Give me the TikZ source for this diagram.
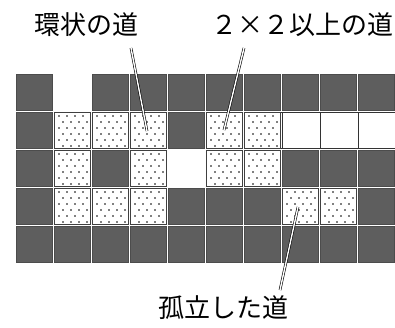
\documentclass[tikz,border=0pt]{standalone}
\usepackage{fontspec}
\newfontfamily\jp{Noto Sans CJK JP}
\begin{document}
\begin{tikzpicture}[x=1pt,y=-1pt,
  darkcell/.style={fill=black!63,draw=black!70,line width=0.4pt},
  dotcell/.style={fill=white,draw=black!75,line width=0.8pt},
  whitecell/.style={fill=white,draw=black!80,line width=0.6pt},
  lbl/.style={inner sep=0pt,font=\jp\fontsize{26}{30}\selectfont},
  leader/.style={draw=black,line width=0.6pt,double=white,double distance=1.4pt}]
\useasboundingbox (0,0) rectangle (395,327);
\fill[white] (0,0) rectangle (395,327);
\begin{scope}
\clip (0,0) rectangle (395,327);
% all cells dark
\foreach \i in {0,...,9}{
  \foreach \j in {0,...,4}{
    \path[darkcell] ({15+38*\i+1},{73+38*\j+1}) rectangle ++(36,36);
  }
}
% white cells
\foreach \i/\j in {1/0,7/1,8/1,9/1,4/2}{
  \path[fill=white] ({15+38*\i},{73+38*\j}) rectangle ++(38,38);
}
\draw[black!80,line width=0.6pt] (282,112) -- (282,148) (320,112) -- (320,148) (358,112) -- (358,148);
\draw[black!80,line width=0.6pt] (244,112) -- (396,112) (244,148) -- (396,148);
% dotted cells
\foreach \i/\j in {1/1,2/1,3/1,5/1,6/1,1/2,3/2,5/2,6/2,1/3,2/3,3/3,7/3,8/3}{
  \path[dotcell] ({15+38*\i+1},{73+38*\j+1}) rectangle ++(36,36);
  \foreach \r in {0,...,5}{
    \foreach \c in {0,...,3}{
      \pgfmathsetmacro{\xo}{mod(\r,2)==0 ? 5+8*\c : 9+8*\c}
      \fill[black] ({15+38*\i+1+\xo},{73+38*\j+1+4+6*\r}) circle (0.9pt);
    }
  }
}
\end{scope}
% labels
\node[lbl] (loop) at (86,25) {環状の道};
\node[lbl] (big) at (302,25) {２×２以上の道};
\node[lbl] (iso) at (223,308) {孤立した道};
\coordinate (loopA) at (131,48);
\coordinate (loopB) at (147,131);
\coordinate (bigA) at (244,48);
\coordinate (bigB) at (224,130);
\coordinate (isoA) at (298,207);
\coordinate (isoB) at (280,290);
\draw[leader] (loopA) -- (loopB);
\draw[leader] (bigA) -- (bigB);
\draw[leader] (isoA) -- (isoB);
\end{tikzpicture}
\end{document}
